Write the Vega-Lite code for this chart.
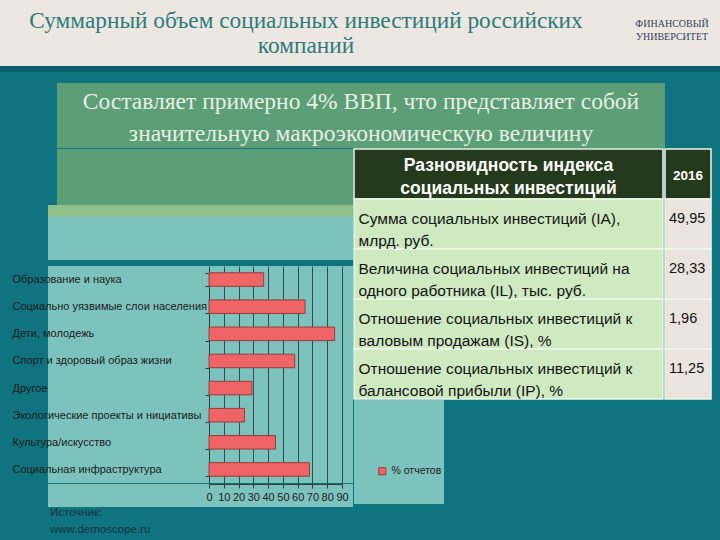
{
  "$schema": "https://vega.github.io/schema/vega-lite/v6.json",
  "background": "#0f7380",
  "padding": 0,
  "spacing": 0,
  "config": {"view": {"stroke": null}, "font": "Liberation Sans", "concat": {"spacing": 0}},
  "datasets": {
    "bars": [
      {"category": "Образование и наука", "percent": 37, "series": "% отчетов"},
      {"category": "Социально уязвимые слои населения", "percent": 65, "series": "% отчетов"},
      {"category": "Дети, молодежь", "percent": 85, "series": "% отчетов"},
      {"category": "Спорт и здоровый образ жизни", "percent": 58, "series": "% отчетов"},
      {"category": "Другое", "percent": 29, "series": "% отчетов"},
      {"category": "Экологические проекты и нициативы", "percent": 24, "series": "% отчетов"},
      {"category": "Культура/искусство", "percent": 45, "series": "% отчетов"},
      {"category": "Социальная инфраструктура", "percent": 68, "series": "% отчетов"}
    ],
    "table": [
      {"row": 0, "part": "header", "indicator": "Разновидность индекса\nсоциальных инвестиций", "y2016": "2016"},
      {"row": 1, "part": "body", "indicator": "Сумма социальных инвестиций (IA),\nмлрд. руб.", "y2016": "49,95"},
      {"row": 2, "part": "body", "indicator": "Величина социальных инвестиций на\nодного работника (IL), тыс. руб.", "y2016": "28,33"},
      {"row": 3, "part": "body", "indicator": "Отношение социальных инвестиций к\nваловым продажам (IS), %", "y2016": "1,96"},
      {"row": 4, "part": "body", "indicator": "Отношение социальных инвестиций к\nбалансовой прибыли (IP), %", "y2016": "11,25"}
    ]
  },
  "vconcat": [
    {
      "spacing": 0,
      "hconcat": [
        {"width": 612, "height": 66, "data": {"values": [{"text": "Суммарный объем социальных инвестиций российских\nкомпаний"}]},
         "mark": {"type": "text", "font": "Liberation Serif", "fontSize": 23.3, "color": "#2e7b7c", "lineBreak": "\n", "lineHeight": 25, "align": "center", "baseline": "middle", "dy": -12.5},
         "encoding": {"text": {"field": "text"}}, "view": {"fill": "#ece8e1"}},
        {"width": 108, "height": 66, "data": {"values": [{"text": "ФИНАНСОВЫЙ\nУНИВЕРСИТЕТ"}]},
         "mark": {"type": "text", "font": "Liberation Serif", "fontSize": 10, "color": "#33405e", "lineBreak": "\n", "lineHeight": 13, "align": "center", "baseline": "middle", "dy": -9, "dx": 6},
         "encoding": {"text": {"field": "text"}}, "view": {"fill": "#ece8e1"}}
      ]
    },
    {"width": 720, "height": 6, "data": {"values": [{}]}, "mark": {"type": "point", "opacity": 0}, "encoding": {}, "view": {"fill": "#0a5c68"}},
    {"width": 720, "height": 11, "data": {"values": [{}]}, "mark": {"type": "point", "opacity": 0}, "encoding": {}},
    {
      "spacing": 0,
      "hconcat": [
        {"width": 57, "height": 65, "data": {"values": [{}]}, "mark": {"type": "point", "opacity": 0}, "encoding": {}},
        {"width": 608, "height": 65,
         "data": {"values": [{"line": 1, "text": "Составляет примерно 4% ВВП, что представляет собой"}, {"line": 2, "text": "значительную макроэкономическую величину"}]},
         "mark": {"type": "text", "font": "Liberation Serif", "fontSize": 23.5, "color": "#e8f0e4", "align": "center", "baseline": "middle", "dy": 2.5},
         "encoding": {"y": {"field": "line", "type": "ordinal", "scale": {"paddingInner": 0, "paddingOuter": 0.0833}, "axis": null}, "text": {"field": "text"}},
         "view": {"fill": "#5c9e78"}}
      ]
    },
    {
      "spacing": 0,
      "hconcat": [
        {
          "spacing": 0,
          "vconcat": [
            {
              "spacing": 0,
              "hconcat": [
                {"width": 57, "height": 56, "data": {"values": [{}]}, "mark": {"type": "point", "opacity": 0}, "encoding": {}},
                {"width": 296, "height": 56, "data": {"values": [{}]}, "mark": {"type": "point", "opacity": 0}, "encoding": {}, "view": {"fill": "#5c9e78"}}
              ]
            },
            {
              "spacing": 0,
              "hconcat": [
                {"width": 48, "height": 12, "data": {"values": [{}]}, "mark": {"type": "point", "opacity": 0}, "encoding": {}},
                {"width": 305, "height": 12, "data": {"values": [{}]}, "mark": {"type": "point", "opacity": 0}, "encoding": {}, "view": {"fill": "#8fc08c"}}
              ]
            },
            {
              "spacing": 0,
              "hconcat": [
                {"width": 48, "height": 43, "data": {"values": [{}]}, "mark": {"type": "point", "opacity": 0}, "encoding": {}},
                {"width": 305, "height": 43, "data": {"values": [{}]}, "mark": {"type": "point", "opacity": 0}, "encoding": {}, "view": {"fill": "#7dc3bd"}}
              ]
            },
            {
              "spacing": 0,
              "hconcat": [
                {"width": 12, "height": 217, "data": {"values": [{}]}, "mark": {"type": "point", "opacity": 0}, "encoding": {}},
                {
                  "width": 305,
                  "height": 217,
                  "view": {"fill": "#7dc3bd"},
                  "data": {"name": "bars"},
                  "mark": {"type": "bar", "stroke": "#9b3a3a", "strokeWidth": 1},
                  "encoding": {
                    "y": {
                      "field": "category", "type": "nominal", "sort": null,
                      "scale": {"paddingInner": 0.5, "paddingOuter": 0.25},
                      "axis": {"title": null, "offset": -161, "labelAlign": "left", "labelPadding": 193, "labelLimit": 215, "labelFontSize": 11, "labelColor": "#1b1b1b", "tickBand": "extent", "tickSize": 4, "tickColor": "#2c3e3e", "domainColor": "#2c3e3e", "grid": false}
                    },
                    "x": {
                      "field": "percent", "type": "quantitative",
                      "scale": {"domain": [0, 90], "nice": false, "range": [161, 294]},
                      "axis": {"title": null, "values": [10, 20, 30, 40, 50, 60, 70, 80, 90], "labels": false, "ticks": false, "domain": false, "grid": true, "gridColor": "#223a3a", "gridOpacity": 0.85}
                    },
                    "color": {
                      "field": "series", "type": "nominal",
                      "scale": {"range": ["#ef6464"]},
                      "legend": {"orient": "none", "legendX": 377, "legendY": 466, "title": null, "symbolType": "square", "symbolSize": 50, "symbolStrokeColor": "#9b3a3a", "symbolStrokeWidth": 1, "labelFontSize": 10.5, "labelColor": "#1b1b1b"}
                    }
                  }
                }
              ]
            },
            {
              "spacing": 0,
              "hconcat": [
                {"width": 48, "height": 23, "data": {"values": [{}]}, "mark": {"type": "point", "opacity": 0}, "encoding": {}},
                {
                  "width": 305,
                  "height": 23,
                  "view": {"fill": "#7dc3bd"},
                  "data": {"name": "bars"},
                  "mark": {"type": "tick", "opacity": 0},
                  "encoding": {
                    "x": {
                      "field": "percent", "type": "quantitative",
                      "scale": {"domain": [0, 90], "nice": false, "range": [161, 294]},
                      "axis": {"title": null, "offset": -23, "values": [0, 10, 20, 30, 40, 50, 60, 70, 80, 90], "labelFontSize": 11, "labelOverlap": false, "labelFlush": false, "labelColor": "#1b1b1b", "labelPadding": 3, "tickSize": 4, "tickColor": "#2c3e3e", "domainColor": "#2c3e3e", "grid": false}
                    }
                  }
                }
              ]
            }
          ]
        },
        {
          "spacing": 0,
          "vconcat": [
            {
              "spacing": 0,
              "hconcat": [
                {
                  "width": 309, "height": 250,
                  "data": {"name": "table"},
                  "encoding": {"y": {"field": "row", "type": "ordinal", "scale": {"paddingInner": 0, "paddingOuter": 0}, "axis": null}},
                  "layer": [
                    {"mark": {"type": "rect", "stroke": "#eef7ea", "strokeWidth": 1.5},
                     "encoding": {"fill": {"condition": {"test": "datum.part == 'header'", "value": "#253a1d"}, "value": "#cfe9c1"}}},
                    {"transform": [{"filter": "datum.part == 'body'"}],
                     "mark": {"type": "text", "align": "left", "baseline": "middle", "lineBreak": "\n", "lineHeight": 22, "fontSize": 15.5, "color": "#141414", "dx": -150, "dy": -5},
                     "encoding": {"text": {"field": "indicator"}}},
                    {"transform": [{"filter": "datum.part == 'header'"}],
                     "mark": {"type": "text", "align": "center", "baseline": "middle", "lineBreak": "\n", "lineHeight": 23, "fontSize": 17.5, "fontWeight": "bold", "color": "#ffffff", "dy": -8},
                     "encoding": {"text": {"field": "indicator"}}}
                  ]
                },
                {
                  "width": 46, "height": 250,
                  "data": {"name": "table"},
                  "encoding": {"y": {"field": "row", "type": "ordinal", "scale": {"paddingInner": 0, "paddingOuter": 0}, "axis": null}},
                  "layer": [
                    {"mark": {"type": "rect", "stroke": "#eef7ea", "strokeWidth": 1.5},
                     "encoding": {"fill": {"condition": {"test": "datum.part == 'header'", "value": "#253a1d"}, "value": "#ebe3de"}}},
                    {"transform": [{"filter": "datum.part == 'body'"}],
                     "mark": {"type": "text", "align": "left", "baseline": "middle", "fontSize": 14.5, "color": "#141414", "dx": -19, "dy": -5},
                     "encoding": {"text": {"field": "y2016"}}},
                    {"transform": [{"filter": "datum.part == 'header'"}],
                     "mark": {"type": "text", "align": "center", "baseline": "middle", "fontSize": 13.5, "fontWeight": "bold", "color": "#ffffff", "dy": 2},
                     "encoding": {"text": {"field": "y2016"}}}
                  ]
                }
              ]
            },
            {"width": 90, "height": 104, "data": {"values": [{}]}, "mark": {"type": "point", "opacity": 0}, "encoding": {}, "view": {"fill": "#7dc3bd"}}
          ]
        }
      ]
    },
    {
      "spacing": 0,
      "hconcat": [
        {"width": 50, "height": 1, "data": {"values": [{}]}, "mark": {"type": "point", "opacity": 0}, "encoding": {}},
        {"width": 150, "height": 1, "data": {"values": [{}]}, "mark": {"type": "point", "opacity": 0}, "encoding": {},
         "title": {"text": ["Источник:", "www.demoscope.ru"], "anchor": "start", "frame": "group", "orient": "top", "offset": 0, "fontSize": 11.5, "fontWeight": "normal", "color": "#14323a", "font": "Liberation Sans", "lineHeight": 17}},
        {"width": 515, "height": 16, "data": {"values": [{}]}, "mark": {"type": "point", "opacity": 0}, "encoding": {},
         "title": {"text": "Симаев П.А., Колесова А.С., Яковлева А.В., Пошлова Ю.О., Наумкина А.Н.", "anchor": "end", "frame": "group", "orient": "bottom", "offset": 2, "fontSize": 8.5, "fontWeight": "normal", "color": "#c9dfe0", "font": "Liberation Serif"}}
      ]
    }
  ]
}
